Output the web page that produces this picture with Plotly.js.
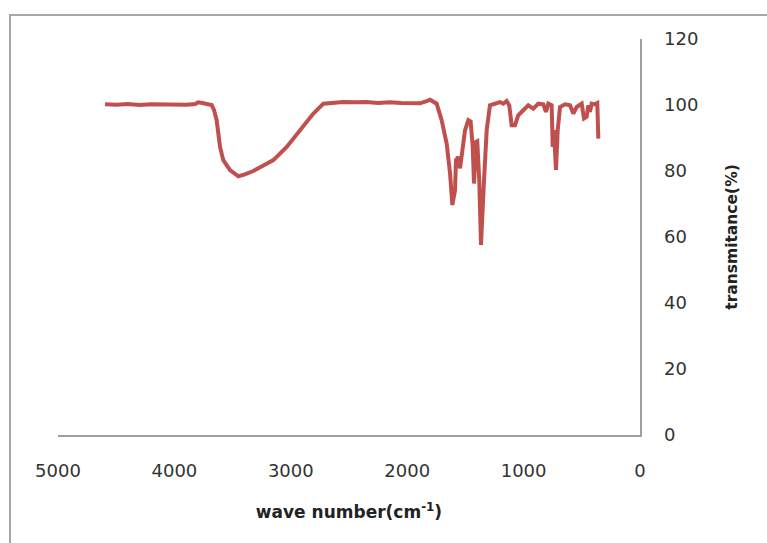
<!DOCTYPE html>
<html>
<head>
<meta charset="utf-8">
<script src="https://cdn.plot.ly/plotly-3.0.1.min.js"></script>
<style>html,body{margin:0;padding:0;background:#fff;}#chart{width:767px;height:543px;}</style>
</head>
<body>
<div id="chart"></div>
<script>
// wavenumber (cm^-1)
const waveNumber = [
  4596, 4500, 4400, 4300, 4200, 4100, 4000, 3900, 3820, 3797, 3760, 3720, 3680,
  3660, 3637, 3608, 3580, 3522, 3450, 3400, 3322, 3240, 3150, 3035, 2921, 2806, 2720,
  2650, 2550, 2450, 2350, 2250, 2150, 2050, 1950, 1890, 1833, 1804, 1747,
  1704, 1661, 1632, 1612, 1589, 1581, 1561, 1546, 1532, 1503, 1475, 1455, 1437,
  1426, 1409, 1398, 1381, 1366, 1340, 1317, 1289, 1246, 1203, 1174, 1146, 1123,
  1103, 1074, 1046, 1003, 960, 916, 874, 831, 808, 788, 759, 750, 739, 722,
  707, 687, 644, 601, 573, 544, 501, 481, 458, 444, 430, 415, 387, 367, 358
];
// transmittance (%)
const transmittance = [
  100.2, 100.1, 100.3, 100.0, 100.2, 100.1, 100.2, 100.1, 100.3, 100.8, 100.6, 100.3, 100.0,
  98.5, 95.4, 87.3, 83.3, 80.3, 78.4, 78.9, 80.0, 81.6, 83.3, 87.3, 92.4, 97.4, 100.4,
  100.7, 100.9, 100.8, 100.9, 100.6, 100.8, 100.6, 100.7, 100.5, 101.2, 101.6, 100.4,
  95.4, 88.3, 79.3, 69.7, 74.2, 83.3, 84.3, 80.8, 84.3, 92.4, 95.4, 95.0, 87.3,
  76.2, 88.8, 89.0, 77.2, 57.6, 77.2, 92.4, 99.9, 100.4, 100.9, 100.4, 101.2, 99.9,
  93.9, 93.9, 96.9, 98.4, 99.9, 98.9, 100.4, 100.2, 97.9, 100.4, 99.9, 87.3, 92.4, 80.3,
  92.4, 99.4, 100.2, 99.9, 97.4, 99.4, 100.4, 95.9, 96.4, 99.9, 97.9, 100.4, 100.2, 100.6, 89.8
];
const xTickVals = [5000, 4000, 3000, 2000, 1000, 0];
const yTickVals = [0, 20, 40, 60, 80, 100, 120];

const tickFont = {family: 'DejaVu Sans', size: 18, color: '#333333'};

const data = [{
  x: waveNumber,
  y: transmittance,
  type: 'scatter',
  mode: 'lines',
  line: {color: '#C0504D', width: 4, shape: 'linear'},
  hoverinfo: 'x+y'
}];

const layout = {
  width: 767,
  height: 543,
  margin: {l: 58, r: 127, t: 39, b: 108, pad: 0},
  paper_bgcolor: '#ffffff',
  plot_bgcolor: '#ffffff',
  showlegend: false,
  xaxis: {
    range: [5000, 0],
    tickvals: xTickVals,
    ticktext: xTickVals.map(String),
    showgrid: false,
    zeroline: false,
    showline: true,
    linecolor: '#a0a0a0',
    linewidth: 1.5,
    ticks: '',
    ticklabelstandoff: 19,
    tickfont: tickFont,
    title: {
      text: 'wave number(cm<sup>-1</sup>)',
      font: {family: 'DejaVu Sans', size: 17, color: '#222222', weight: 'bold'},
      standoff: 26
    }
  },
  yaxis: {
    range: [0, 120],
    side: 'right',
    tickvals: yTickVals,
    ticktext: yTickVals.map(String),
    showgrid: false,
    zeroline: false,
    showline: true,
    linecolor: '#a0a0a0',
    linewidth: 1.5,
    ticks: '',
    ticklabelstandoff: 19,
    tickfont: tickFont,
    title: {
      text: 'transmitance(%)',
      font: {family: 'DejaVu Sans', size: 15.5, color: '#222222', weight: 'bold'},
      standoff: 28
    }
  },
  shapes: [{
    type: 'rect', xref: 'paper', yref: 'paper',
    x0: (10 - 58) / 582, x1: 1.5,
    y0: -0.5, y1: (435.5 - 15) / 396.5,
    line: {color: '#a8a8a8', width: 2},
    fillcolor: 'rgba(0,0,0,0)',
    layer: 'below'
  }]
};

Plotly.newPlot('chart', data, layout, {displayModeBar: false, staticPlot: true});
</script>
</body>
</html>
